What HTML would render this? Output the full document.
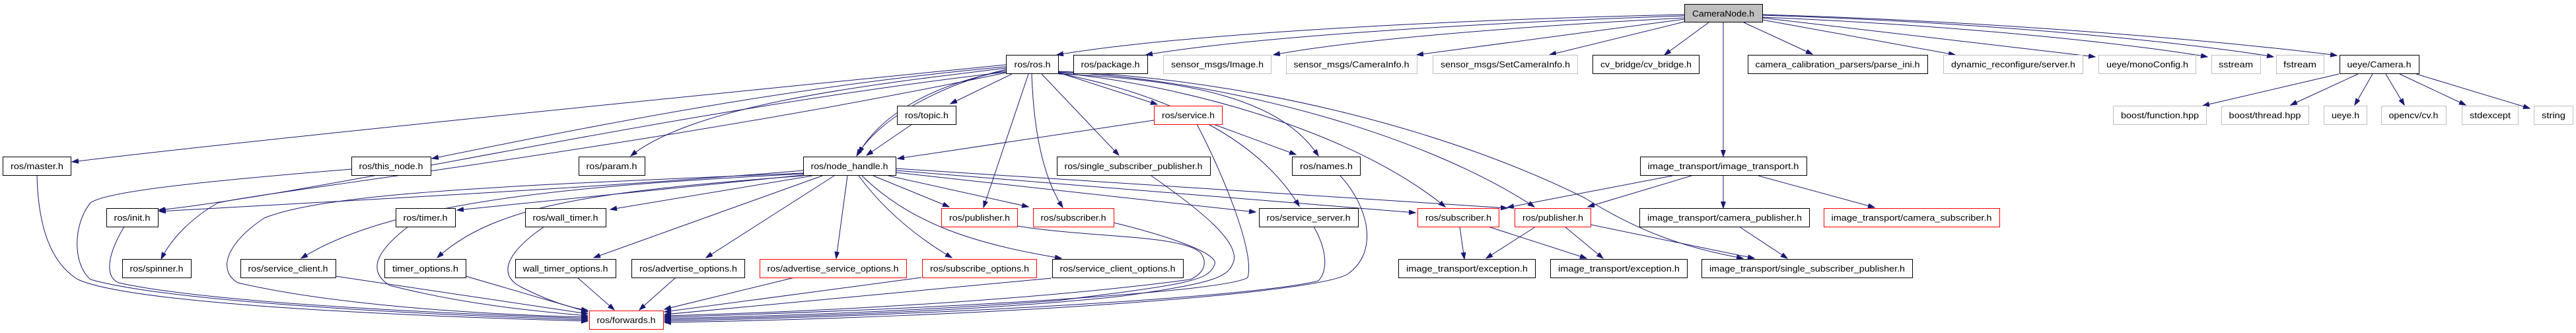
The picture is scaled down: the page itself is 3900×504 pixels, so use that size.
<!DOCTYPE html>
<html><head><meta charset="utf-8"><style>
html,body{margin:0;padding:0;background:#fff;}
svg{display:block;}
text{font-family:"Liberation Sans",sans-serif;font-size:13px;fill:#000;text-anchor:middle;}
.e{fill:none;stroke:#191970;stroke-width:1;marker-end:url(#a);}
.b{fill:#fff;stroke:#000;stroke-width:1;}
.r{fill:#fff;stroke:#ff0000;stroke-width:1;}
.g{fill:#fff;stroke:#bfbfbf;stroke-width:1;}
</style></head><body>
<svg width="3900" height="504" viewBox="0 0 3900 504" xmlns="http://www.w3.org/2000/svg">
<defs><marker id="a" markerUnits="userSpaceOnUse" markerWidth="11" markerHeight="8" refX="10" refY="3.5" orient="auto"><path d="M0,0 L10,3.5 L0,7 z" fill="#191970" stroke="#191970"/></marker></defs>
<g>
<path class="e" d="M2550,22 C2200,30 1800,50 1600,83"/>
<path class="e" d="M2550,24 C2250,34 1900,55 1735,83"/>
<path class="e" d="M2550,27 C2300,40 2050,60 1928,83"/>
<path class="e" d="M2550,29 L2145,83"/>
<path class="e" d="M2550,33 L2346,83"/>
<path class="e" d="M2587,34 L2520,83"/>
<path class="e" d="M2640,34 L2744,82"/>
<path class="e" d="M2668,30 L2960,83"/>
<path class="e" d="M2668,27 L3172,86"/>
<path class="e" d="M2668,26 C3000,40 3250,70 3342,86"/>
<path class="e" d="M2668,23 C3050,35 3350,70 3442,86"/>
<path class="e" d="M2668,22 C3100,35 3450,72 3538,84"/>
<path class="e" d="M2609,34 L2609,237"/>
<path class="e" d="M3541,112 L3335,160"/>
<path class="e" d="M3570,112 L3468,159"/>
<path class="e" d="M3592,112 L3565,159"/>
<path class="e" d="M3612,112 L3640,159"/>
<path class="e" d="M3633,112 L3733,159"/>
<path class="e" d="M3658,112 L3830,164"/>
<path class="e" d="M1523,98 C1000,150 400,210 109,245"/>
<path class="e" d="M1523,101 C1200,130 900,190 654,240"/>
<path class="e" d="M1523,103 C1300,130 1050,160 955,236"/>
<path class="e" d="M1523,105 C1420,130 1330,180 1297,236"/>
<path class="e" d="M1523,107 C1400,130 1330,180 1300,232"/>
<path class="e" d="M1532,112 L1439,157"/>
<path class="e" d="M1603,110 L1752,158"/>
<path class="e" d="M1577,112 L1694,235"/>
<path class="e" d="M1557,112 L1489,314"/>
<path class="e" d="M1562,112 C1565,200 1580,270 1609,314"/>
<path class="e" d="M1603,112 C1800,120 1940,150 1996,236"/>
<path class="e" d="M1603,111 C1750,140 1900,200 1967,312"/>
<path class="e" d="M1603,110 C1800,130 2050,200 2188,313"/>
<path class="e" d="M1603,109 C1850,120 2150,200 2323,313"/>
<path class="e" d="M1603,108 C1900,120 2200,200 2400,300 C2480,350 2550,375 2639,391"/>
<path class="e" d="M1523,109 C1000,170 500,290 240,318"/>
<path class="e" d="M1523,110 C1000,220 400,290 330,307 C290,330 260,360 244,392"/>
<path class="e" d="M1747,182 L1359,240"/>
<path class="e" d="M1837,188 L1962,234"/>
<path class="e" d="M1812,188 C1850,260 1900,380 1889,420 C1860,440 1500,465 1006,480"/>
<path class="e" d="M1381,188 L1312,235"/>
<path class="e" d="M1216,258 C900,285 500,305 241,320"/>
<path class="e" d="M1216,263 C900,280 600,300 456,391"/>
<path class="e" d="M1216,265 L692,318"/>
<path class="e" d="M1216,266 C900,290 750,310 662,390"/>
<path class="e" d="M1230,266 L924,317"/>
<path class="e" d="M1245,266 L899,390"/>
<path class="e" d="M1263,266 L1069,390"/>
<path class="e" d="M1283,266 L1266,391"/>
<path class="e" d="M1300,266 C1340,320 1390,360 1441,390"/>
<path class="e" d="M1305,266 C1380,340 1480,370 1607,391"/>
<path class="e" d="M1322,266 L1437,313"/>
<path class="e" d="M1345,266 L1557,313"/>
<path class="e" d="M1356,261 L1901,321"/>
<path class="e" d="M1356,258 L2143,322"/>
<path class="e" d="M1356,255 L2282,315"/>
<path class="e" d="M1216,262 C800,280 500,290 400,330 C340,370 330,410 360,428 C500,460 700,475 890,480"/>
<path class="e" d="M2532,266 L2282,314"/>
<path class="e" d="M2561,266 L2404,313"/>
<path class="e" d="M2609,266 L2609,315"/>
<path class="e" d="M2662,266 L2838,314"/>
<path class="e" d="M2210,343 L2217,392"/>
<path class="e" d="M2253,343 L2402,391"/>
<path class="e" d="M2325,343 L2250,391"/>
<path class="e" d="M2369,343 L2427,391"/>
<path class="e" d="M2408,340 L2656,391"/>
<path class="e" d="M2633,343 L2706,391"/>
<path class="e" d="M56,266 C58,350 80,400 118,423 C200,460 600,478 890,486"/>
<path class="e" d="M532,256 C300,275 160,290 137,307 C110,340 110,400 137,423 C250,455 600,475 890,484"/>
<path class="e" d="M188,343 C160,390 160,420 180,428 C300,455 600,472 890,482"/>
<path class="e" d="M508,418 L890,475"/>
<path class="e" d="M618,343 C570,380 555,410 590,432 C700,460 800,470 890,478"/>
<path class="e" d="M705,418 L890,472"/>
<path class="e" d="M824,343 C770,380 750,415 790,435 C830,455 860,465 890,470"/>
<path class="e" d="M874,420 L930,469"/>
<path class="e" d="M1023,420 L968,469"/>
<path class="e" d="M1203,420 L1006,468"/>
<path class="e" d="M1395,420 L1006,472"/>
<path class="e" d="M1592,421 L1006,476"/>
<path class="e" d="M1540,342 C1650,360 1790,355 1818,383 C1830,400 1820,415 1802,423 C1600,450 1300,470 1006,478"/>
<path class="e" d="M1686,337 C1780,360 1845,385 1839,400 C1830,425 1800,430 1600,455 C1400,470 1200,478 1006,482"/>
<path class="e" d="M1743,266 C1820,320 1875,365 1868,395 C1860,420 1840,428 1700,448 C1500,470 1200,480 1006,484"/>
<path class="e" d="M1989,343 C2010,380 2010,410 1996,425 C1900,450 1400,478 1006,486"/>
<path class="e" d="M2029,266 C2070,310 2090,380 2040,415 C1990,445 1500,480 1006,488"/>
</g>
<g>
<rect x="2550.5" y="6.5" width="118" height="27" fill="#bfbfbf" stroke="#000"/><text x="2609" y="25" textLength="94" lengthAdjust="spacingAndGlyphs">CameraNode.h</text>

<rect class="b" x="1523.5" y="83.5" width="79" height="28"/><text x="1563" y="102" textLength="55" lengthAdjust="spacingAndGlyphs">ros/ros.h</text>
<rect class="b" x="1625.5" y="83.5" width="112" height="28"/><text x="1681" y="102" textLength="89" lengthAdjust="spacingAndGlyphs">ros/package.h</text>
<rect class="g" x="1761.5" y="83.5" width="163" height="28"/><text x="1843" y="102" textLength="140" lengthAdjust="spacingAndGlyphs">sensor_msgs/Image.h</text>
<rect class="g" x="1947.5" y="83.5" width="198" height="28"/><text x="2046" y="102" textLength="175" lengthAdjust="spacingAndGlyphs">sensor_msgs/CameraInfo.h</text>
<rect class="g" x="2169.5" y="83.5" width="219" height="28"/><text x="2279" y="102" textLength="196" lengthAdjust="spacingAndGlyphs">sensor_msgs/SetCameraInfo.h</text>
<rect class="b" x="2411.5" y="83.5" width="161" height="28"/><text x="2492" y="102" textLength="138" lengthAdjust="spacingAndGlyphs">cv_bridge/cv_bridge.h</text>
<rect class="b" x="2646.5" y="83.5" width="272" height="28"/><text x="2782" y="102" textLength="249" lengthAdjust="spacingAndGlyphs">camera_calibration_parsers/parse_ini.h</text>
<rect class="g" x="2942.5" y="83.5" width="211" height="28"/><text x="3048" y="102" textLength="188" lengthAdjust="spacingAndGlyphs">dynamic_reconfigure/server.h</text>
<rect class="g" x="3177.5" y="83.5" width="147" height="28"/><text x="3251" y="102" textLength="124" lengthAdjust="spacingAndGlyphs">ueye/monoConfig.h</text>
<rect class="g" x="3348.5" y="83.5" width="74" height="28"/><text x="3385" y="102" textLength="52" lengthAdjust="spacingAndGlyphs">sstream</text>
<rect class="g" x="3446.5" y="83.5" width="72" height="28"/><text x="3482" y="102" textLength="50" lengthAdjust="spacingAndGlyphs">fstream</text>
<rect class="b" x="3542.5" y="83.5" width="120" height="28"/><text x="3602" y="102" textLength="97" lengthAdjust="spacingAndGlyphs">ueye/Camera.h</text>

<rect class="b" x="1358.5" y="160.5" width="89" height="28"/><text x="1403" y="179" textLength="66" lengthAdjust="spacingAndGlyphs">ros/topic.h</text>
<rect class="r" x="1747.5" y="160.5" width="103" height="28"/><text x="1799" y="179" textLength="80" lengthAdjust="spacingAndGlyphs">ros/service.h</text>
<rect class="g" x="3199.5" y="160.5" width="141" height="28"/><text x="3270" y="179" textLength="118" lengthAdjust="spacingAndGlyphs">boost/function.hpp</text>
<rect class="g" x="3363.5" y="160.5" width="132" height="28"/><text x="3429" y="179" textLength="109" lengthAdjust="spacingAndGlyphs">boost/thread.hpp</text>
<rect class="g" x="3518.5" y="160.5" width="65" height="28"/><text x="3551" y="179" textLength="42" lengthAdjust="spacingAndGlyphs">ueye.h</text>
<rect class="g" x="3605.5" y="160.5" width="98" height="28"/><text x="3654" y="179" textLength="75" lengthAdjust="spacingAndGlyphs">opencv/cv.h</text>
<rect class="g" x="3727.5" y="160.5" width="85" height="28"/><text x="3770" y="179" textLength="62" lengthAdjust="spacingAndGlyphs">stdexcept</text>
<rect class="g" x="3836.5" y="160.5" width="59" height="28"/><text x="3866" y="179" textLength="36" lengthAdjust="spacingAndGlyphs">string</text>

<rect class="b" x="4.5" y="237.5" width="103" height="28"/><text x="56" y="256" textLength="80" lengthAdjust="spacingAndGlyphs">ros/master.h</text>
<rect class="b" x="532.5" y="237.5" width="120" height="28"/><text x="592" y="256" textLength="97" lengthAdjust="spacingAndGlyphs">ros/this_node.h</text>
<rect class="b" x="876.5" y="237.5" width="100" height="28"/><text x="926" y="256" textLength="77" lengthAdjust="spacingAndGlyphs">ros/param.h</text>
<rect class="b" x="1216.5" y="237.5" width="140" height="28"/><text x="1286" y="256" textLength="117" lengthAdjust="spacingAndGlyphs">ros/node_handle.h</text>
<rect class="b" x="1600.5" y="237.5" width="232" height="28"/><text x="1716" y="256" textLength="209" lengthAdjust="spacingAndGlyphs">ros/single_subscriber_publisher.h</text>
<rect class="b" x="1956.5" y="237.5" width="103" height="28"/><text x="2008" y="256" textLength="80" lengthAdjust="spacingAndGlyphs">ros/names.h</text>
<rect class="b" x="2483.5" y="237.5" width="252" height="28"/><text x="2609" y="256" textLength="229" lengthAdjust="spacingAndGlyphs">image_transport/image_transport.h</text>

<rect class="b" x="161.5" y="315.5" width="78" height="28"/><text x="200" y="334" textLength="55" lengthAdjust="spacingAndGlyphs">ros/init.h</text>
<rect class="b" x="599.5" y="315.5" width="90" height="28"/><text x="644" y="334" textLength="67" lengthAdjust="spacingAndGlyphs">ros/timer.h</text>
<rect class="b" x="795.5" y="315.5" width="122" height="28"/><text x="856" y="334" textLength="99" lengthAdjust="spacingAndGlyphs">ros/wall_timer.h</text>
<rect class="r" x="1425.5" y="315.5" width="115" height="28"/><text x="1483" y="334" textLength="92" lengthAdjust="spacingAndGlyphs">ros/publisher.h</text>
<rect class="r" x="1564.5" y="315.5" width="122" height="28"/><text x="1625" y="334" textLength="99" lengthAdjust="spacingAndGlyphs">ros/subscriber.h</text>
<rect class="b" x="1906.5" y="315.5" width="150" height="28"/><text x="1981" y="334" textLength="127" lengthAdjust="spacingAndGlyphs">ros/service_server.h</text>
<rect class="r" x="2146.5" y="315.5" width="123" height="28"/><text x="2208" y="334" textLength="100" lengthAdjust="spacingAndGlyphs">ros/subscriber.h</text>
<rect class="r" x="2293.5" y="315.5" width="115" height="28"/><text x="2351" y="334" textLength="92" lengthAdjust="spacingAndGlyphs">ros/publisher.h</text>
<rect class="b" x="2482.5" y="315.5" width="257" height="28"/><text x="2611" y="334" textLength="234" lengthAdjust="spacingAndGlyphs">image_transport/camera_publisher.h</text>
<rect class="r" x="2761.5" y="315.5" width="266" height="28"/><text x="2894" y="334" textLength="243" lengthAdjust="spacingAndGlyphs">image_transport/camera_subscriber.h</text>

<rect class="b" x="185.5" y="392.5" width="104" height="28"/><text x="237" y="411" textLength="81" lengthAdjust="spacingAndGlyphs">ros/spinner.h</text>
<rect class="b" x="364.5" y="392.5" width="144" height="28"/><text x="436" y="411" textLength="121" lengthAdjust="spacingAndGlyphs">ros/service_client.h</text>
<rect class="b" x="582.5" y="392.5" width="123" height="28"/><text x="644" y="411" textLength="100" lengthAdjust="spacingAndGlyphs">timer_options.h</text>
<rect class="b" x="780.5" y="392.5" width="152" height="28"/><text x="856" y="411" textLength="129" lengthAdjust="spacingAndGlyphs">wall_timer_options.h</text>
<rect class="b" x="956.5" y="392.5" width="171" height="28"/><text x="1042" y="411" textLength="148" lengthAdjust="spacingAndGlyphs">ros/advertise_options.h</text>
<rect class="r" x="1150.5" y="392.5" width="222" height="28"/><text x="1261" y="411" textLength="199" lengthAdjust="spacingAndGlyphs">ros/advertise_service_options.h</text>
<rect class="r" x="1396.5" y="392.5" width="173" height="28"/><text x="1483" y="411" textLength="150" lengthAdjust="spacingAndGlyphs">ros/subscribe_options.h</text>
<rect class="b" x="1593.5" y="392.5" width="198" height="28"/><text x="1692" y="411" textLength="175" lengthAdjust="spacingAndGlyphs">ros/service_client_options.h</text>
<rect class="b" x="2117.5" y="392.5" width="207" height="28"/><text x="2221" y="411" textLength="184" lengthAdjust="spacingAndGlyphs">image_transport/exception.h</text>
<rect class="b" x="2347.5" y="392.5" width="207" height="28"/><text x="2451" y="411" textLength="184" lengthAdjust="spacingAndGlyphs">image_transport/exception.h</text>
<rect class="b" x="2576.5" y="392.5" width="319" height="28"/><text x="2736" y="411" textLength="296" lengthAdjust="spacingAndGlyphs">image_transport/single_subscriber_publisher.h</text>

<rect class="r" x="892.5" y="470.5" width="112" height="28"/><text x="948" y="489" textLength="89" lengthAdjust="spacingAndGlyphs">ros/forwards.h</text>
</g>
</svg>
</body></html>
